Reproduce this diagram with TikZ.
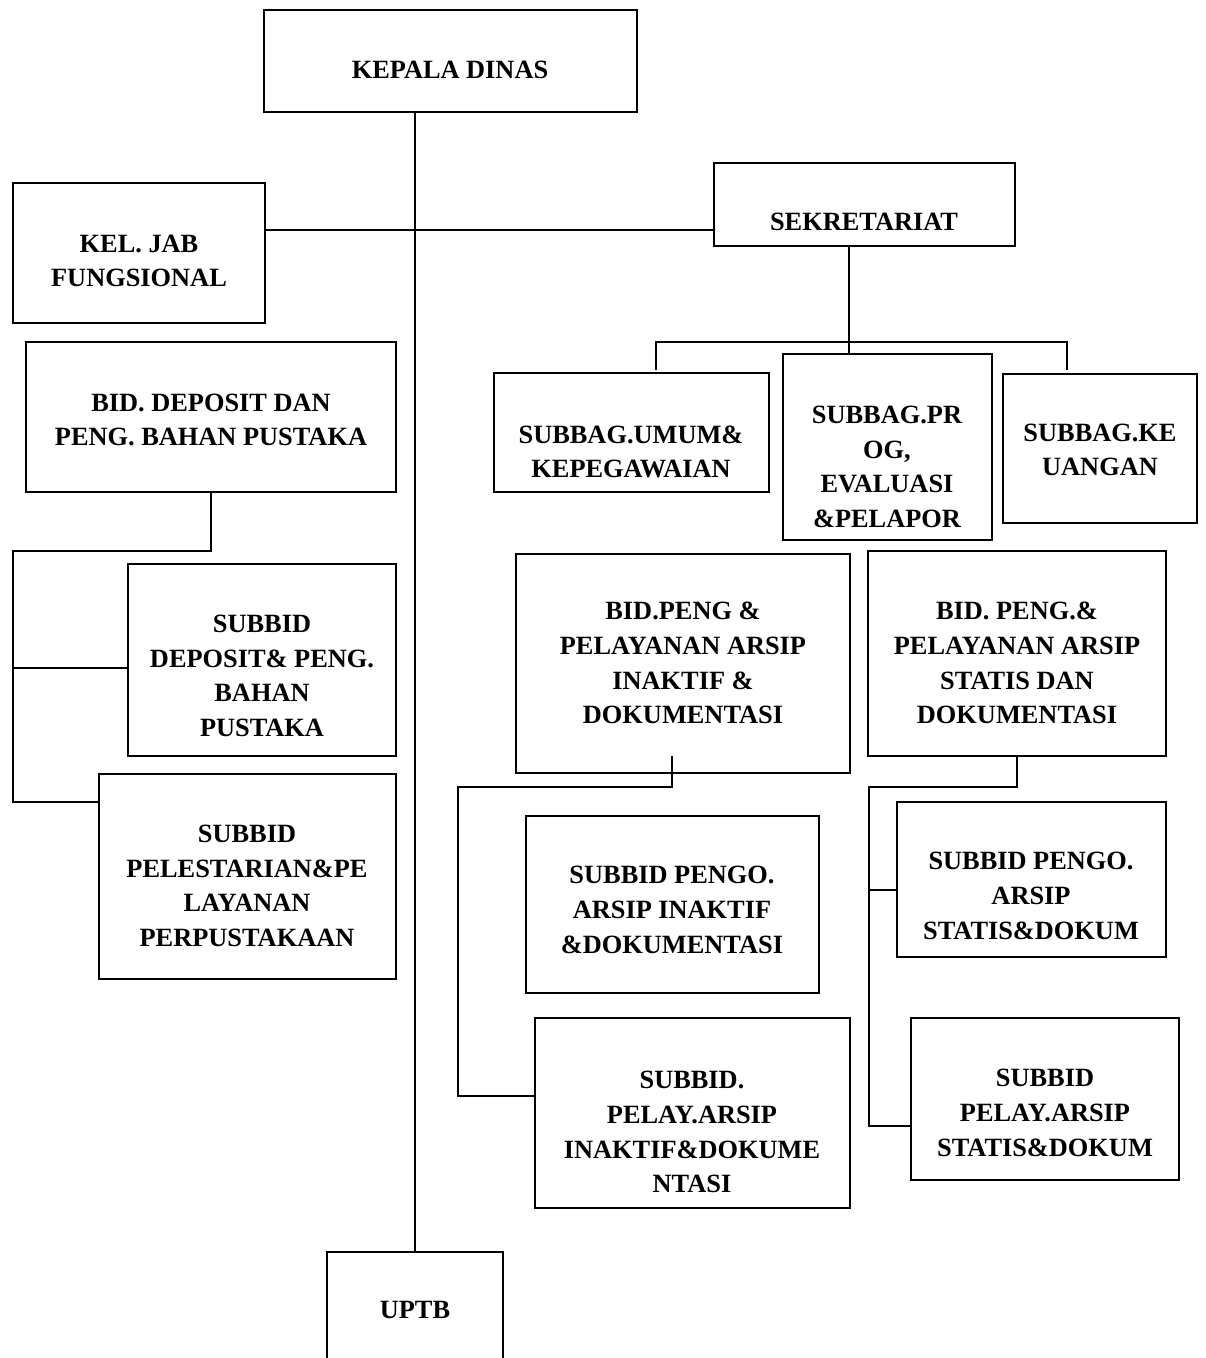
\documentclass[tikz,border=0pt]{standalone}
\usepackage{fontspec}
\setmainfont{Liberation Serif}
\usetikzlibrary{fit,positioning,calc}
\tikzset{
    unit/.style ={draw, line width=1.1pt, inner sep=0pt},
    txt/.style = {align=center, inner sep=0pt, font=\bfseries\fontsize{15}{19.8}\selectfont},
    link/.style = {line width=1.1pt}
}

\begin{document}
\begin{tikzpicture}[x=0.02cm,y=-0.02cm]
    \useasboundingbox (0,0) rectangle (1205,1358);

    % boxes with absolute coordinates
    \node[unit, fit={(264,10) (637,112)}] (kepala) {};
    \node[txt] (kepalaT) at (450,70) {KEPALA DINAS};

    \node[unit, fit={(13,183) (265,323)}] (keljab) {};
    \node[txt] (keljabT) at (139,261) {KEL. JAB\\FUNGSIONAL};

    \node[unit, fit={(714,163) (1015,246)}] (sekre) {};
    \node[txt] (sekreT) at (864,222) {SEKRETARIAT};

    \node[unit, fit={(26,342) (396,492)}] (biddep) {};
    \node[txt] (biddepT) at (211,420) {BID. DEPOSIT DAN\\PENG. BAHAN PUSTAKA};

    \node[unit, fit={(494,373) (769,492)}] (umum) {};
    \node[txt] (umumT) at (631,452) {SUBBAG.UMUM\&\\KEPEGAWAIAN};

    \node[unit, fit={(783,354) (992,540)}] (prog) {};
    \node[txt] (progT) at (887,467) {SUBBAG.PR\\OG,\\EVALUASI\\\&PELAPOR};

    \node[unit, fit={(1003,374) (1197,523)}] (keu) {};
    \node[txt] (keuT) at (1100,450) {SUBBAG.KE\\UANGAN};

    \node[unit, fit={(128,564) (396,756)}] (subdep) {};
    \node[txt] (subdepT) at (262,676) {SUBBID\\DEPOSIT\& PENG.\\BAHAN\\PUSTAKA};

    \node[unit, fit={(99,774) (396,979)}] (pelest) {};
    \node[txt] (pelestT) at (247,886) {SUBBID\\PELESTARIAN\&PE\\LAYANAN\\PERPUSTAKAAN};

    \node[unit, fit={(516,554) (850,773)}] (bidinak) {};
    \node[txt] (bidinakT) at (683,663) {BID.PENG \&\\PELAYANAN ARSIP\\INAKTIF \&\\DOKUMENTASI};

    \node[unit, fit={(868,551) (1166,756)}] (bidstat) {};
    \node[txt] (bidstatT) at (1017,663) {BID. PENG.\&\\PELAYANAN ARSIP\\STATIS DAN\\DOKUMENTASI};

    \node[unit, fit={(526,816) (819,993)}] (pengoinak) {};
    \node[txt] (pengoinakT) at (672,910) {SUBBID PENGO.\\ARSIP INAKTIF\\\&DOKUMENTASI};

    \node[unit, fit={(897,802) (1166,957)}] (pengostat) {};
    \node[txt] (pengostatT) at (1031,896) {SUBBID PENGO.\\ARSIP\\STATIS\&DOKUM};

    \node[unit, fit={(535,1018) (850,1208)}] (pelayinak) {};
    \node[txt] (pelayinakT) at (692,1132) {SUBBID.\\PELAY.ARSIP\\INAKTIF\&DOKUME\\NTASI};

    \node[unit, fit={(911,1018) (1179,1180)}] (pelaystat) {};
    \node[txt] (pelaystatT) at (1045,1113) {SUBBID\\PELAY.ARSIP\\STATIS\&DOKUM};

    \node[unit, fit={(327,1252) (503,1380)}] (uptb) {};
    \node[txt] (uptbT) at (415,1310) {UPTB};

    % main line and staff row
    \coordinate (row) at (0,230);
    \draw[link] (kepala.south -| uptb.north) -- (uptb.north);
    \draw[link] (keljab.east |- row) -- (sekre.west |- row);

    % sekretariat bus
    \coordinate (sekbus) at (849,342);
    \coordinate (busL) at (656,342);
    \coordinate (busR) at (1067,342);
    \coordinate (busLend) at (656,370);
    \coordinate (busRend) at (1067,370);
    \draw[link] (sekre.south -| sekbus) -- (prog.north -| sekbus);
    \draw[link] (busLend) -- (busL) -- (busR) -- (busRend);

    % deposit column
    \coordinate (depbus) at (13,551);
    \coordinate (depmid) at (13,668);
    \coordinate (depend) at (13,802);
    \draw[link] (biddep.south) |- (depbus) -- (depend) -- (pelest.west |- depend);
    \draw[link] (depmid) -- (subdep.west |- depmid);

    % inaktif column
    \coordinate (inaktop) at (672,756);
    \coordinate (inakbus) at (458,787);
    \coordinate (inakend) at (458,1096);
    \draw[link] (inaktop) |- (inakbus) -- (inakend) -- (pelayinak.west |- inakend);

    % statis column
    \coordinate (statbus) at (869,787);
    \coordinate (statmid) at (869,890);
    \coordinate (statend) at (869,1126);
    \draw[link] (bidstat.south) |- (statbus) -- (statend) -- (pelaystat.west |- statend);
    \draw[link] (statmid) -- (pengostat.west |- statmid);
\end{tikzpicture}
\end{document}
